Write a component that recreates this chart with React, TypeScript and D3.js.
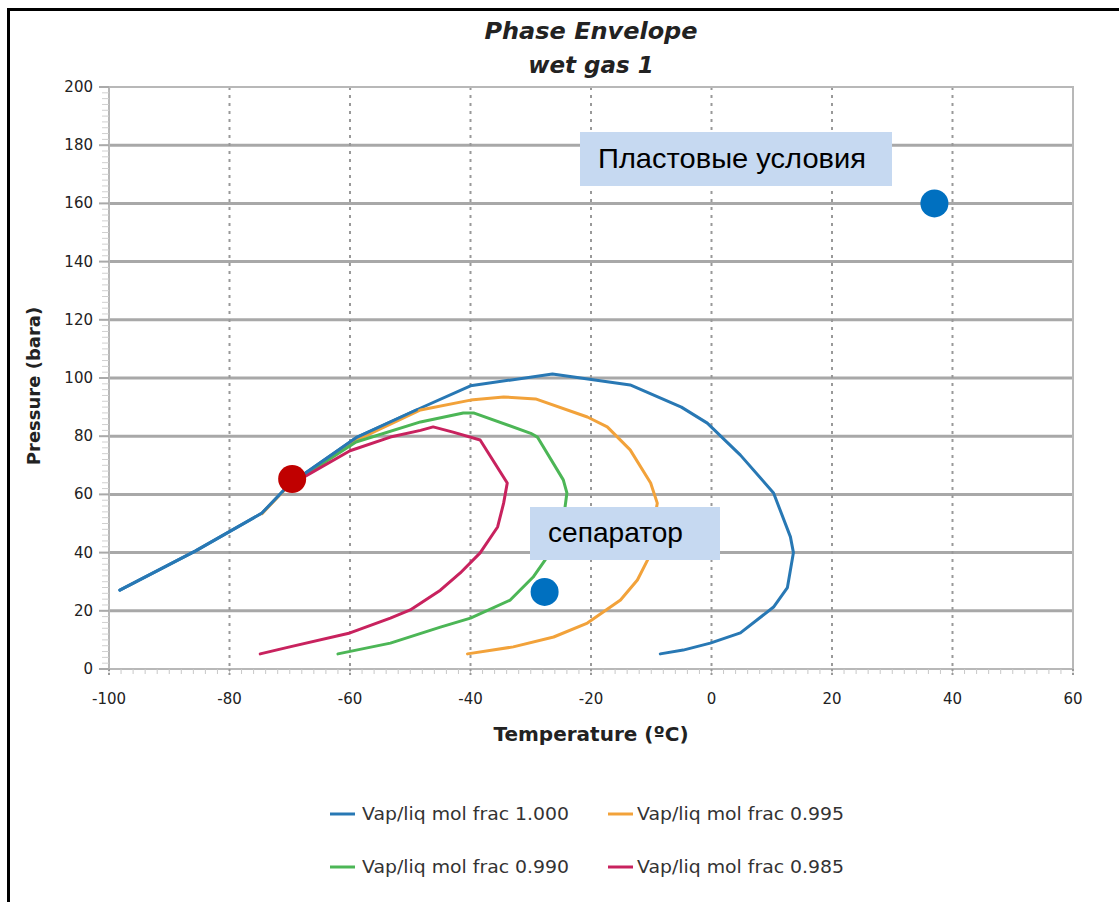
import React from "react";
import * as d3 from "d3";

type Pt = [number, number];

const xTicks = [-100, -80, -60, -40, -20, 0, 20, 40, 60];
const yTicks = [0, 20, 40, 60, 80, 100, 120, 140, 160, 180, 200];

const seriesNames = [
  "Vap/liq mol frac 1.000",
  "Vap/liq mol frac 0.995",
  "Vap/liq mol frac 0.990",
  "Vap/liq mol frac 0.985",
];
const seriesColors = ["#2878b4", "#f2a23a", "#4cb656", "#c8225e"];

const frac1000: Pt[] = [
  [-98.2, 27.1], [-85.7, 40.5], [-74.6, 53.6], [-70, 63.6], [-58.8, 79.7],
  [-49, 89], [-40, 97.3], [-26.4, 101.4], [-13.5, 97.6], [-5, 90],
  [-0.7, 84.5], [4.8, 73.5], [10.3, 60.5], [13.1, 45.4], [13.6, 40],
  [12.6, 28], [10.3, 21.3], [4.8, 12.4], [-0.2, 8.9], [-4.7, 6.5], [-8.5, 5.2],
];
const frac995: Pt[] = [
  [-74.6, 53.4], [-70, 63.4], [-59, 78.6], [-48.3, 89], [-40, 92.4],
  [-34.5, 93.5], [-29.2, 92.8], [-20.6, 86.6], [-17.3, 83.2], [-13.5, 75.3],
  [-10.1, 63.9], [-9, 57], [-10.6, 37.5], [-12.3, 30.6], [-15.1, 23.7],
  [-20.6, 15.8], [-26.2, 11], [-32.9, 7.6], [-40.5, 5.2],
];
const frac990: Pt[] = [
  [-70, 63.3], [-59, 78], [-48.3, 84.9], [-41.2, 88], [-39.5, 88],
  [-30, 81], [-28.9, 79.7], [-24.6, 65], [-24, 60.5], [-24.6, 51],
  [-26, 44], [-27.6, 37.5], [-29.6, 31.6], [-33.4, 23.7], [-40, 17.5],
  [-45, 14.4], [-53.3, 8.9], [-62, 5.2],
];
const frac985: Pt[] = [
  [-70, 63.2], [-60, 75], [-53.3, 79.7], [-48.3, 82], [-46.2, 83.2],
  [-42.9, 81.4], [-38.4, 78.7], [-33.9, 63.9], [-34.5, 57], [-35.5, 48.8],
  [-38.4, 39.9], [-41.7, 33], [-45, 27.1], [-50, 20.3], [-53.3, 17.5],
  [-60, 12.4], [-70, 7.6], [-74.9, 5.2],
];
const seriesData = [frac1000, frac995, frac990, frac985];

const reservoirPoint: Pt = [37, 160];
const separatorPoint: Pt = [-27.7, 26.5];
const redPoint: Pt = [-69.6, 65.3];

const W = 1119;
const H = 902;
const L = 109, R = 1073, T = 87, B = 669;

export default function App() {
  const x = d3.scaleLinear().domain([-100, 60]).range([L, R]);
  const y = d3.scaleLinear().domain([0, 200]).range([B, T]);
  const line = d3.line<Pt>().x((d) => x(d[0])).y((d) => y(d[1]));

  const xMinor = d3.range(-100, 60.001, 2);
  const yMinor = d3.range(0, 200.001, 2);
  const tickFont = "DejaVu Sans, Verdana, sans-serif";
  const annFont = "Liberation Sans, Arial, sans-serif";

  return (
    <svg width={W} height={H} style={{ position: "absolute", left: 0, top: 0 }}>
      <rect x={0} y={0} width={W} height={H} fill="#fff" />
      <line x1={8} x2={W} y1={9.5} y2={9.5} stroke="#000" strokeWidth={3} />
      <line x1={8.5} x2={8.5} y1={8} y2={H} stroke="#000" strokeWidth={3} />

      {/* title */}
      <text x={591} y={39} textAnchor="middle" fontFamily={tickFont} fontStyle="italic" fontWeight="bold" fontSize={23} fill="#222" textLength={213} lengthAdjust="spacingAndGlyphs">Phase Envelope</text>
      <text x={591} y={73} textAnchor="middle" fontFamily={tickFont} fontStyle="italic" fontWeight="bold" fontSize={23} fill="#222">wet gas 1</text>

      {/* grid */}
      {yTicks.slice(1, -1).map((t) => (
        <line key={"gy" + t} x1={L} x2={R} y1={y(t)} y2={y(t)} stroke="#a8a8a8" strokeWidth={3} />
      ))}
      {xTicks.slice(1, -1).map((t) => (
        <line key={"gx" + t} x1={x(t)} x2={x(t)} y1={T} y2={B} stroke="#999" strokeWidth={2} strokeDasharray="3,5" />
      ))}
      <rect x={L} y={T} width={R - L} height={B - T} fill="none" stroke="#b8b8b8" strokeWidth={2} />

      {/* minor ticks */}
      {xMinor.map((t) => (
        <line key={"mx" + t} x1={x(t)} x2={x(t)} y1={B} y2={B + 5} stroke="#c8c8c8" strokeWidth={1} />
      ))}
      {yMinor.map((t) => (
        <line key={"my" + t} x1={L - 7} x2={L} y1={y(t)} y2={y(t)} stroke="#d0d0d0" strokeWidth={1} />
      ))}
      {xTicks.map((t) => (
        <line key={"tx" + t} x1={x(t)} x2={x(t)} y1={B} y2={B + 8} stroke="#999" strokeWidth={2} strokeDasharray="2,2" />
      ))}
      {yTicks.map((t) => (
        <line key={"ty" + t} x1={L - 10} x2={L} y1={y(t)} y2={y(t)} stroke="#aaa" strokeWidth={2} />
      ))}

      {/* tick labels */}
      {yTicks.map((t) => (
        <text key={"ly" + t} x={93} y={y(t) + 5} textAnchor="end" fontFamily={tickFont} fontSize={15} fill="#222">{t}</text>
      ))}
      {xTicks.map((t) => (
        <text key={"lx" + t} x={x(t)} y={704} textAnchor="middle" fontFamily={tickFont} fontSize={15} fill="#222">{t}</text>
      ))}

      <text x={591} y={741} textAnchor="middle" fontFamily={tickFont} fontWeight="bold" fontSize={20} fill="#222">Temperature (ºC)</text>
      <text transform={`translate(40,386) rotate(-90)`} textAnchor="middle" fontFamily={tickFont} fontWeight="bold" fontSize={18} fill="#222">Pressure (bara)</text>

      {/* curves */}
      {seriesData.map((d, i) => (
        <path key={"s" + i} d={line(d) || ""} fill="none" stroke={seriesColors[i]} strokeWidth={3} strokeLinejoin="round" strokeLinecap="round" />
      ))}
      <path d={line(frac1000.slice(0, 6)) || ""} fill="none" stroke={seriesColors[0]} strokeWidth={3} strokeLinejoin="round" strokeLinecap="round" />

      {/* annotations */}
      <rect x={580} y={132} width={312} height={54} fill="#c6d9f1" />
      <text x={598} y={168} fontFamily={annFont} fontSize={28} fill="#000" textLength={268} lengthAdjust="spacingAndGlyphs">Пластовые условия</text>
      <rect x={530} y={507} width={190} height={53} fill="#c6d9f1" />
      <text x={548} y={542} fontFamily={annFont} fontSize={28} fill="#000" textLength={135} lengthAdjust="spacingAndGlyphs">сепаратор</text>

      <circle cx={x(reservoirPoint[0])} cy={y(reservoirPoint[1])} r={14} fill="#0070c0" />
      <circle cx={x(separatorPoint[0])} cy={y(separatorPoint[1])} r={14} fill="#0070c0" />
      <circle cx={x(redPoint[0])} cy={y(redPoint[1])} r={14} fill="#c00000" />

      {/* legend */}
      {seriesNames.map((n, i) => {
        const col = i % 2;
        const row = Math.floor(i / 2);
        const lx = col === 0 ? 330 : 608;
        const tx = col === 0 ? 362 : 637;
        const ly = row === 0 ? 814 : 867;
        return (
          <g key={"lg" + i}>
            <line x1={lx} x2={lx + 25} y1={ly} y2={ly} stroke={seriesColors[i]} strokeWidth={3} />
            <text x={tx} y={ly + 6} fontFamily={tickFont} fontSize={17} fill="#333" textLength={207} lengthAdjust="spacingAndGlyphs">{n}</text>
          </g>
        );
      })}
    </svg>
  );
}
